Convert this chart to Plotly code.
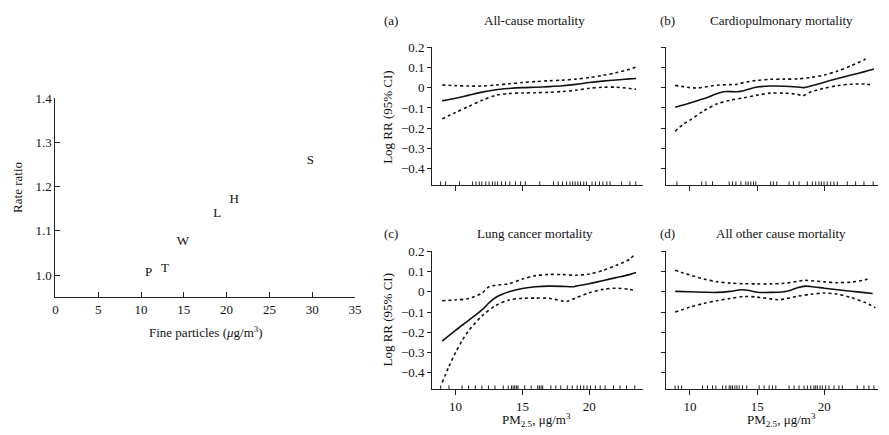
import plotly.graph_objects as go

FONT = "Liberation Serif, Times New Roman, serif"
INK = "#222"

# ---------------- left panel data ----------------
cities = ["P", "T", "W", "L", "H", "S"]
fine_particles = [10.9, 12.8, 14.9, 18.9, 20.9, 29.8]
rate_ratio = [1.005, 1.015, 1.075, 1.138, 1.170, 1.258]
left_xticks = [0, 5, 10, 15, 20, 25, 30, 35]
left_yticks = [1.0, 1.1, 1.2, 1.3, 1.4]
left_ytext = ["1.0", "1.1", "1.2", "1.3", "1.4"]

# ---------------- right panels data ----------------
rr_ticks = [0.2, 0.1, 0, -0.1, -0.2, -0.3, -0.4]
rr_text = ["0.2", "0.1", "0", "\u22120.1", "\u22120.2", "\u22120.3", "\u22120.4"]
pm_ticks = [10, 15, 20]

titles = ["All-cause mortality", "Cardiopulmonary mortality",
          "Lung cancer mortality", "All other cause mortality"]
tags = ["(a)", "(b)", "(c)", "(d)"]

# (a) all-cause
a_x = [9.0, 10, 11, 12, 13, 14, 15, 16, 17, 18, 19, 20, 21, 22, 23, 23.5]
a_est = [-0.065, -0.052, -0.037, -0.022, -0.010, -0.004, 0.0, 0.002, 0.005, 0.009,
         0.016, 0.025, 0.032, 0.038, 0.043, 0.045]
a_up = [0.013, 0.010, 0.008, 0.008, 0.013, 0.019, 0.025, 0.030, 0.034, 0.037,
        0.042, 0.050, 0.060, 0.073, 0.090, 0.102]
a_lo = [-0.154, -0.122, -0.092, -0.062, -0.038, -0.029, -0.026, -0.025, -0.023, -0.019,
        -0.013, -0.003, 0.002, 0.002, -0.004, -0.008]
a_rug = [8.89, 9.26, 10.30, 11.28, 11.53, 11.77, 11.97, 12.26, 12.51, 12.76, 12.95,
         13.15, 13.44, 13.74, 14.06, 14.48, 14.87, 15.22, 16.30, 17.33, 17.68, 18.00,
         18.31, 18.56, 18.76, 18.95, 19.15, 19.35, 19.59, 19.79, 20.21, 20.46, 20.77,
         21.02, 21.32, 21.56, 22.42, 23.04, 23.48]

# (b) cardiopulmonary
b_x = [8.9, 10, 11, 12, 12.5, 13.5, 14, 14.5, 15, 16, 17, 18, 18.5, 19, 20, 21, 22, 23, 23.7]
b_est = [-0.097, -0.076, -0.055, -0.030, -0.020, -0.020, -0.015, -0.005, 0.003, 0.008,
         0.007, 0.003, 0.0, 0.008, 0.027, 0.045, 0.062, 0.079, 0.092]
b_up_x = [8.9, 9.5, 10, 10.5, 11, 12, 13, 13.5, 14, 15, 16, 17, 18, 19, 20, 21, 22, 23, 23.2]
b_up = [0.011, 0.005, 0.0, -0.002, 0.002, 0.012, 0.015, 0.016, 0.025, 0.036, 0.041,
        0.042, 0.043, 0.050, 0.062, 0.082, 0.108, 0.138, 0.146]
b_lo_x = [8.9, 9.5, 10, 11, 12, 13, 14, 15, 16, 17, 18, 18.4, 19, 20, 21, 22, 23, 23.4]
b_lo = [-0.215, -0.180, -0.160, -0.115, -0.080, -0.062, -0.050, -0.037, -0.027, -0.027,
        -0.033, -0.040, -0.020, -0.003, 0.010, 0.017, 0.018, 0.015]
b_rug = [9.03, 10.87, 11.19, 11.68, 12.92, 13.17, 13.42, 13.79, 14.16, 14.33, 14.53,
         14.73, 14.90, 16.01, 16.21, 16.46, 17.38, 17.70, 18.12, 18.74, 19.11, 19.36,
         19.60, 19.78, 19.98, 20.22, 20.47, 20.72, 20.97, 21.71, 22.33, 22.95, 23.64]

# (c) lung cancer
c_x = [9.0, 10, 11, 12, 12.5, 13, 13.5, 14, 15, 16, 17, 18, 18.8, 19, 20, 21, 22, 23, 23.5]
c_est = [-0.243, -0.190, -0.140, -0.088, -0.055, -0.028, -0.012, 0.000, 0.016, 0.025,
         0.028, 0.027, 0.025, 0.028, 0.040, 0.055, 0.070, 0.085, 0.095]
c_up_x = [9.0, 10, 11, 12, 12.5, 13, 14, 15, 16, 17, 18, 19, 20, 21, 22, 23, 23.3]
c_up = [-0.044, -0.040, -0.033, -0.005, 0.025, 0.032, 0.040, 0.063, 0.080, 0.086,
        0.085, 0.082, 0.088, 0.105, 0.130, 0.160, 0.178]
c_lo_x = [9.0, 9.5, 10, 10.5, 11, 12, 13, 14, 15, 16, 17, 18, 18.3, 19, 20, 21, 22, 23, 23.4]
c_lo = [-0.448, -0.370, -0.300, -0.240, -0.190, -0.118, -0.068, -0.040, -0.032, -0.031,
        -0.032, -0.045, -0.048, -0.030, -0.005, 0.012, 0.018, 0.012, 0.005]
c_rug = [8.89, 9.51, 10.49, 10.98, 11.48, 11.97, 12.46, 12.95, 13.57, 13.94, 14.18,
         14.31, 14.43, 14.55, 14.67, 15.17, 15.66, 16.15, 16.27, 16.40, 16.52, 17.13,
         17.50, 17.87, 18.36, 18.73, 19.10, 19.35, 19.59, 19.84, 20.09, 20.46, 20.82,
         21.19, 21.81, 22.30, 22.79, 23.41]

# (d) all other causes
d_x = [8.9, 10, 11, 12, 13, 13.8, 14.5, 15, 16, 17, 17.5, 18, 18.6, 19, 20, 21, 22, 23, 23.6]
d_est = [0.002, 0.0, -0.002, -0.003, 0.002, 0.010, 0.005, -0.002, -0.003, 0.0, 0.008,
         0.020, 0.028, 0.026, 0.018, 0.010, 0.003, -0.004, -0.008]
d_up_x = [8.9, 9.5, 10, 11, 12, 13, 14, 15, 16, 17, 18, 18.5, 19, 20, 21, 22, 23, 23.3]
d_up = [0.107, 0.093, 0.083, 0.064, 0.050, 0.043, 0.040, 0.039, 0.039, 0.042, 0.052,
        0.057, 0.055, 0.049, 0.045, 0.048, 0.058, 0.065]
d_lo_x = [8.9, 10, 11, 12, 13, 14, 15, 16, 16.5, 17, 18, 19, 20, 21, 22, 23, 23.8]
d_lo = [-0.100, -0.076, -0.058, -0.044, -0.033, -0.023, -0.026, -0.035, -0.039, -0.036,
        -0.022, -0.012, -0.006, -0.012, -0.028, -0.052, -0.078]
d_rug = [8.89, 9.13, 9.38, 10.94, 11.31, 11.68, 11.93, 12.43, 12.67, 12.92, 13.04,
         13.17, 13.34, 13.49, 13.66, 13.91, 14.23, 15.15, 15.52, 15.89, 16.14, 16.39,
         17.38, 17.75, 18.12, 18.49, 18.74, 18.99, 19.23, 19.36, 19.48, 19.68, 19.85,
         20.10, 20.35, 20.72, 21.09, 21.34, 22.45, 22.95, 23.32, 23.69]

panels = [
    (a_x, a_est, a_x, a_up, a_x, a_lo, a_rug),
    (b_x, b_est, b_up_x, b_up, b_lo_x, b_lo, b_rug),
    (c_x, c_est, c_up_x, c_up, c_lo_x, c_lo, c_rug),
    (d_x, d_est, d_up_x, d_up, d_lo_x, d_lo, d_rug),
]

W, H = 889, 435
def px_x(p):
    return p / W
def px_y(p):
    return (H - p) / H

Y_RANGE = [-0.48, 0.2]
X_RANGE = [8.25, 24.0]
RUG_H = 0.018

fig = go.Figure()

# left panel
fig.add_trace(go.Scatter(
    x=fine_particles, y=rate_ratio, text=cities, mode="text",
    textfont=dict(family=FONT, size=13, color="#111"),
    xaxis="x", yaxis="y", showlegend=False, hoverinfo="skip"))

axis_ids = ["2", "3", "4", "5"]
for pid, (ex, ey, ux, uy, lx, ly, rug) in zip(axis_ids, panels):
    xa, ya = "x" + pid, "y" + pid
    for cx, cy in ((ux, uy), (lx, ly)):
        fig.add_trace(go.Scatter(x=cx, y=cy, mode="lines",
                                 line=dict(color="#111", width=1.6, dash="dot",
                                           shape="spline", smoothing=0.8),
                                 xaxis=xa, yaxis=ya, showlegend=False, hoverinfo="skip"))
    fig.add_trace(go.Scatter(x=ex, y=ey, mode="lines",
                             line=dict(color="#111", width=1.6, shape="spline", smoothing=0.8),
                             xaxis=xa, yaxis=ya, showlegend=False, hoverinfo="skip"))
    rx, ry = [], []
    for v in rug:
        rx += [v, v, None]
        ry += [Y_RANGE[0], Y_RANGE[0] + RUG_H, None]
    fig.add_trace(go.Scatter(x=rx, y=ry, mode="lines",
                             line=dict(color="#222", width=1),
                             xaxis=xa, yaxis=ya, showlegend=False, hoverinfo="skip"))

tickfont = dict(family=FONT, size=13, color="#111")
base_axis = dict(showgrid=False, zeroline=False, showline=True, linecolor=INK,
                 linewidth=1, tickcolor=INK, tickwidth=1, tickfont=tickfont)

layout = dict(
    width=W, height=H, margin=dict(l=0, r=0, t=0, b=0), autosize=False,
    paper_bgcolor="white", plot_bgcolor="white",
    font=dict(family=FONT, size=13, color="#111"),
    xaxis=dict(base_axis, domain=[px_x(53), px_x(356)], range=[0, 35],
               tickmode="array", tickvals=left_xticks, ticks="inside", ticklen=5,
               anchor="y"),
    yaxis=dict(base_axis, domain=[px_y(295), px_y(92.7)], range=[0.95, 1.4],
               tickmode="array", tickvals=left_yticks, ticktext=left_ytext,
               ticks="inside", ticklen=5, anchor="x"),
)

xdoms = [[px_x(434), px_x(647)], [px_x(671), px_x(885)]]
ydoms = [[px_y(181), px_y(40.7)], [px_y(388.3), px_y(248.3)]]
for i, pid in enumerate(axis_ids):
    col, row = i % 2, i // 2
    layout["xaxis" + pid] = dict(base_axis, domain=xdoms[col], range=X_RANGE,
                                 tickmode="array", tickvals=pm_ticks,
                                 showticklabels=(row == 1), ticks="outside", ticklen=5,
                                 anchor="y" + pid)
    layout["yaxis" + pid] = dict(base_axis, domain=ydoms[row], range=Y_RANGE,
                                 tickmode="array", tickvals=rr_ticks, ticktext=rr_text,
                                 showticklabels=(col == 0), ticks="outside", ticklen=4,
                                 anchor="x" + pid)

fig.update_layout(**layout)

ann = []
def add_text(x, y, text, size=13, angle=0):
    ann.append(dict(x=px_x(x), y=px_y(y), xref="paper", yref="paper", text=text,
                    showarrow=False, textangle=angle, xanchor="center", yanchor="middle",
                    font=dict(family=FONT, size=size, color="#111")))

tag_pos = [(392, 14), (672, 14), (392, 230), (672, 230)]
title_pos = [(538, 14), (787, 14), (538, 230), (787, 230)]
for t, p in zip(tags, tag_pos):
    add_text(p[0], p[1], t)
for t, p in zip(titles, title_pos):
    add_text(p[0], p[1], t)

add_text(389, 112, "Log RR (95% CI)", angle=-90)
add_text(389, 318, "Log RR (95% CI)", angle=-90)
add_text(540, 420, "PM<sub>2.5</sub>, \u03bcg/m<sup>3</sup>")
add_text(787, 420, "PM<sub>2.5</sub>, \u03bcg/m<sup>3</sup>")
add_text(14, 183, "Rate ratio", angle=-90)
add_text(205, 330, "Fine particles (<i>\u03bc</i>g/m<sup>3</sup>)")

fig.update_layout(annotations=ann)
fig.write_html("out.html", config={"displayModeBar": False},
               post_script="document.body.style.margin='0px';document.body.style.overflow='hidden';")
